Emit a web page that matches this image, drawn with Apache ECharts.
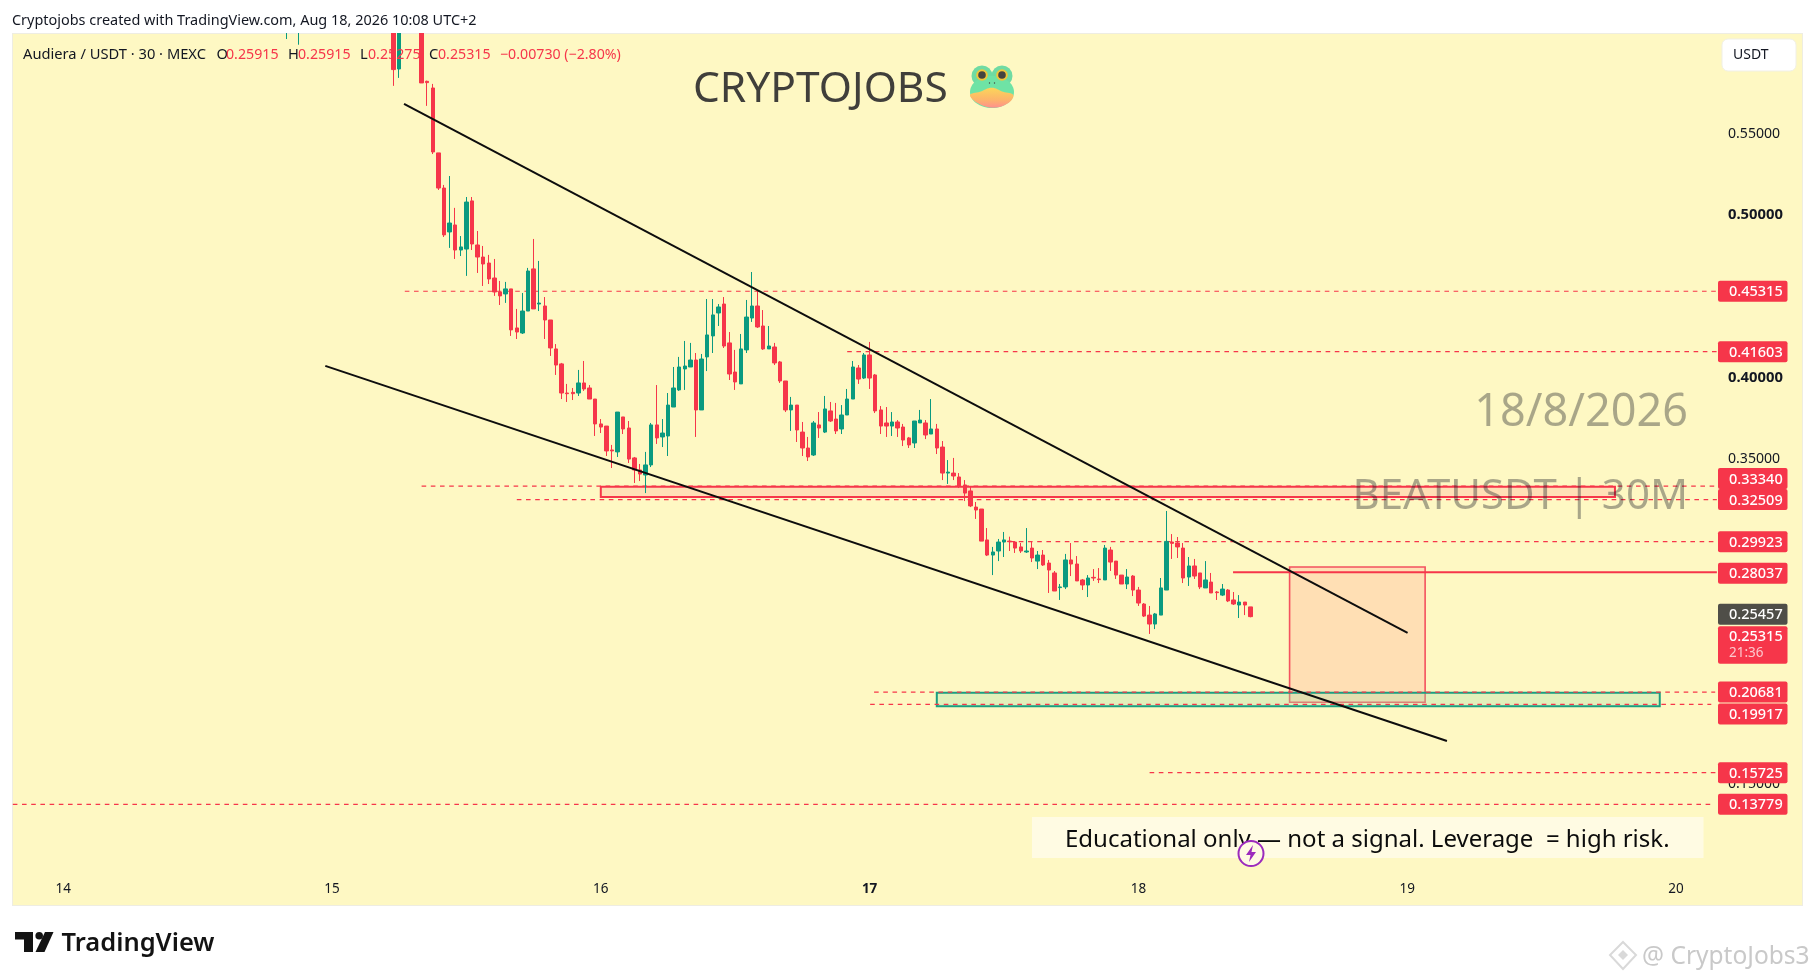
<!DOCTYPE html>
<html>
<head>
<meta charset="utf-8">
<style>
html,body{margin:0;padding:0;background:#fff;}
#panel{position:absolute;left:12px;top:33px;width:1789px;height:871px;background:#fef8c3;border:1px solid #eeede2;}
#c{position:absolute;left:0;top:0;width:1815px;height:980px;}
</style>
</head>
<body>
<div id="panel"></div>
<div id="c"></div>
<script src="https://cdn.jsdelivr.net/npm/echarts@6/dist/echarts.min.js"></script>
<script>
// ---- 30-minute bars; bar index 0 is half a bar right of the panel's left edge ----
const firstBar = 49;
const opens = [
.625,.640,.622,.650,.664,.655,.668,.660,.672,.665,.655,.662,.650,.658,.646,.652,.642,.650,.645,.640,
.5898,.632,.650,.640,.635,.5822,.5781,.5382,.5166,.4896,.4939,.4785,.4791,.5087,.4816,.4742,.4705,.4613,.4527,.4515,
.4546,.4306,.4275,.4410,.4669,.4453,.4441,.4355,.4177,.4085,.3906,.3910,.3906,.3968,.3937,.3869,.3716,.3703,.3556,.3544,
.3759,.3691,.3507,.3433,.3402,.3464,.3710,.3636,.3642,.3820,.3925,.4054,.4066,.4109,.3802,.4128,.4257,.4398,.4453,.4214,
.4035,.3962,.4171,.4367,.4441,.4318,.4177,.4189,.4097,.3980,.3802,.3832,.3666,.3568,.3525,.3710,.3666,.3796,.3746,.3685,
.3771,.3869,.4060,.3998,.4140,.4017,.3802,.3722,.3703,.3728,.3697,.3630,.3599,.3722,.3722,.3654,.3685,.3574,.3414,.3414,
.3390,.3341,.3304,.3205,.3193,.3003,.2910,.2935,.2990,.2996,.2990,.2960,.2929,.2953,.2873,.2910,.2861,.2800,.2710,.2714,
.2880,.2855,.2757,.2726,.2773,.2763,.2757,.2941,.2873,.2787,.2732,.2781,.2695,.2609,.2541,.2486,.2541,.2695,.2990,.2984,
.2953,.2775,.2843,.2800,.2708,.2744,.2683,.2664,.2695,.2634,.2603,.2621,.25915];
const closes = [
.640,.632,.650,.664,.655,.668,.660,.672,.665,.655,.662,.650,.658,.646,.652,.642,.650,.645,.640,.5894,
.632,.650,.640,.635,.5812,.5814,.5388,.5166,.4878,.4951,.4785,.4804,.5080,.4822,.4742,.4699,.4607,.4527,.4503,.4546,
.4294,.4281,.4410,.4656,.4423,.4459,.4355,.4183,.4078,.3906,.3902,.3902,.3968,.3931,.3869,.3716,.3697,.3550,.3550,.3789,
.3685,.3500,.3433,.3408,.3464,.3710,.3630,.3660,.3832,.3937,.4066,.4072,.4109,.3802,.4115,.4263,.4386,.4435,.4195,.4023,
.3974,.4177,.4373,.4441,.4312,.4177,.4195,.4091,.3980,.3802,.3832,.3679,.3568,.3513,.3722,.3691,.3808,.3734,.3673,.3771,
.3869,.4066,.3992,.4140,.3998,.3796,.3703,.3703,.3728,.3691,.3617,.3587,.3734,.3740,.3648,.3685,.3568,.3414,.3420,.3396,
.3335,.3291,.3212,.3187,.2996,.2910,.2929,.2990,.3003,.2992,.2953,.2935,.2935,.2892,.2910,.2849,.2818,.2689,.2714,.2880,
.2855,.2751,.2726,.2769,.2769,.2759,.2953,.2867,.2787,.2732,.2775,.2695,.2615,.2535,.2486,.2548,.2708,.2994,.2982,.2960,
.2769,.2843,.2781,.2714,.2757,.2677,.2679,.2701,.2628,.2609,.2621,.2603,.25315];
const lows = [
.6082,.620,.6047,.640,.648,.650,.652,.655,.658,.650,.648,.645,.642,.640,.638,.634,.636,.632,.630,.5794,
.5843,.625,.630,.625,.5812,.5671,.5375,.5154,.4865,.4798,.4730,.4748,.4626,.4785,.4644,.4564,.4576,.4503,.4447,.4460,
.4257,.4238,.4269,.4410,.4423,.4410,.4238,.4134,.4017,.3869,.3851,.3863,.3888,.3919,.3869,.3642,.3660,.3519,.3445,.3513,
.3654,.3476,.3353,.3365,.3291,.3451,.3593,.3574,.3519,.3820,.3919,.3925,.4066,.3636,.3802,.4041,.4152,.4318,.4183,.3986,
.3925,.3962,.4152,.4343,.4306,.4171,.4177,.4078,.3968,.3789,.3673,.3605,.3519,.3488,.3519,.3630,.3660,.3728,.3654,.3654,
.3771,.3869,.3962,.3992,.3931,.3783,.3654,.3636,.3642,.3636,.3580,.3568,.3568,.3722,.3623,.3654,.3531,.3371,.3347,.3371,
.3322,.3242,.3205,.3132,.2996,.2904,.2787,.2873,.2898,.2935,.2923,.2923,.2923,.2867,.2824,.2843,.2677,.2689,.2634,.2701,
.2781,.2751,.2695,.2652,.2751,.2738,.2757,.2812,.2763,.2732,.2701,.2658,.2597,.2529,.2425,.2455,.2541,.2695,.2886,.2892,
.2738,.2720,.2763,.2701,.2708,.2677,.2634,.2658,.2621,.2603,.2523,.2541,.25275];
const highs = [
.645,.648,.655,.670,.672,.675,.680,.682,.678,.670,.668,.665,.664,.662,.658,.656,.655,.656,.650,.650,
.645,.660,.660,.645,.640,.5826,.5806,.5382,.5185,.5240,.5044,.4871,.5111,.5111,.4902,.4810,.4755,.4730,.4595,.4589,
.4546,.4423,.4521,.4675,.4853,.4718,.4496,.4355,.4207,.4091,.3962,.3937,.4048,.4103,.3955,.3869,.3746,.3703,.3587,.3789,
.3759,.3734,.3513,.3470,.3544,.3722,.3955,.3746,.3906,.4066,.4128,.4226,.4214,.4152,.4146,.4484,.4484,.4453,.4496,.4281,
.4171,.4269,.4478,.4650,.4539,.4416,.4318,.4214,.4103,.3980,.3882,.3832,.3728,.3636,.3734,.3789,.3888,.3851,.3845,.3832,
.3931,.4103,.4078,.4152,.4220,.4023,.3826,.3820,.3789,.3740,.3716,.3636,.3734,.3802,.3740,.3869,.3716,.3611,.3494,.3507,
.3414,.3371,.3328,.3236,.3193,.3076,.2960,.3009,.3052,.3023,.2996,.2984,.3076,.2996,.2935,.2941,.2880,.2812,.2732,.2917,
.2984,.2904,.2763,.2787,.2824,.2830,.2972,.2960,.2873,.2787,.2824,.2787,.2714,.2615,.2597,.2554,.2769,.3181,.3039,.3021,
.2984,.2898,.2886,.2800,.2873,.2800,.2689,.2732,.2701,.2683,.2664,.2621,.25915];

// ---- axes ----
const priceTicks = [.55,.50,.40,.35,.15];
const boldPrices = [.50,.40];
const dayBars = [9,57,105,153,201,249,297];
const dayLabels = ['14','15','16','17','18','19','20'];
const boldDays = ['17'];

// ---- trend lines, in bar index / price ----
const upperTrendBars = [69.86,249.07];
const upperTrendPrices = [.5683,.2431];
const lowerTrendBars = [55.8,256.1];
const lowerTrendPrices = [.4073,.1767];

// ---- horizontal levels ----
const levelPrices = [.45315,.41603,.33340,.32509,.29923,.20681,.19917,.15725,.13779];
const levelStartBars = [70,149,73,90,178,153.8,153.1,203,0];
const levelEndBars = [304.3,304.3,304.3,304.3,304.3,304,303.3,304.3,303.6];
const solidPrice = .28037;
const solidStartBar = 217.9;
const solidEndBar = 304.3;

// ---- zones ----
const zoneStartBars = [105,228,165];
const zoneEndBars = [286.1,252.2,294.1];
const zoneTopPrices = [.3330,.2837,.2064];
const zoneBottomPrices = [.3267,.2005,.1980];

// ---- price scale tags ----
const tagPrices = [.45315,.41603,.33340,.32509,.29923,.28037,.25457,.25315,.20681,.19917,.15725,.13779];
const tagLabels = ['0.45315','0.41603','0.33340','0.32509','0.29923','0.28037','0.25457','0.25315','0.20681','0.19917','0.15725','0.13779'];
const tagShift = [0,0,-7.5,0,0,1,0,19.5,0,9.5,0,0];
const countdownLabel = '21:36';

const RED='#f6364a', GREEN='#0a9a80', FONT='"Noto Sans",sans-serif', INK='#131722';

const chart = echarts.init(document.getElementById('c'),null,{width:1815,height:980});

const candles = opens.map((o,i)=>[firstBar+i,o,closes[i],lows[i],highs[i]]);
const zoneRows = zoneStartBars.map((s,i)=>[s,zoneTopPrices[i]]);
const levelRows = levelPrices.map((p,i)=>[levelStartBars[i],p]);
const tagRows = tagPrices.map(p=>[0,p]);
const zoneStyle = [
  {fill:'#ffdfb6',stroke:RED,lineWidth:2},
  {fill:'#ffdfb4',stroke:'#f4525f',lineWidth:1.6},
  {fill:'rgba(170,225,170,0.33)',stroke:'#1b9e80',lineWidth:2}
];

const txt=(x,y,s,o={})=>({type:'text',x,y,z:o.z||50,silent:true,style:Object.assign({text:s,fill:INK,font:'14px '+FONT,textAlign:'left',textVerticalAlign:'middle'},o)});
const LBL='14.7px '+FONT;

chart.setOption({
  backgroundColor:'transparent',
  animation:false,
  grid:{left:10,top:33,width:1792,height:872,containLabel:false},
  xAxis:{type:'value',min:-0.5,max:319.5,position:'bottom',
    axisLine:{show:false},axisTick:{show:false},splitLine:{show:false},
    axisLabel:{inside:true,margin:16,verticalAlign:'middle',color:INK,fontFamily:FONT,fontSize:13.5,
      customValues:dayBars,showMinLabel:true,showMaxLabel:true,hideOverlap:false,
      formatter:v=>{const d=dayLabels[dayBars.indexOf(v)];return boldDays.includes(d)?'{b|'+d+'}':d;},
      rich:{b:{fontWeight:'bold',fontFamily:FONT,fontSize:13.5,color:INK}}}},
  yAxis:{type:'value',min:0.0759,max:0.6119,position:'right',scale:true,
    axisLine:{show:false},axisTick:{show:false},splitLine:{show:false},
    axisLabel:{inside:true,margin:74,align:'left',verticalAlign:'middle',color:INK,fontFamily:FONT,fontSize:14.1,
      customValues:priceTicks,
      formatter:v=>{const s=v.toFixed(5);return boldPrices.some(b=>Math.abs(b-v)<1e-6)?'{b|'+s+'}':s;},
      rich:{b:{fontWeight:'bold',fontFamily:FONT,fontSize:14.8,color:INK}}}},
  series:[
    {type:'custom',name:'zones',z:1,data:zoneRows,encode:{x:0,y:1},silent:true,clip:false,
      renderItem:(params,api)=>{
        const i=params.dataIndex;
        const a=api.coord([zoneStartBars[i],zoneTopPrices[i]]),b=api.coord([zoneEndBars[i],zoneBottomPrices[i]]);
        return {type:'rect',shape:{x:a[0],y:a[1],width:b[0]-a[0],height:b[1]-a[1]},style:zoneStyle[i]};
      }},
    {type:'custom',name:'levels',z:1,data:levelRows,encode:{x:0,y:1},silent:true,clip:false,
      renderItem:(params,api)=>{
        const i=params.dataIndex;
        const a=api.coord([levelStartBars[i],levelPrices[i]]),b=api.coord([levelEndBars[i],levelPrices[i]]);
        return {type:'line',shape:{x1:a[0],y1:a[1],x2:b[0],y2:b[1]},style:{stroke:RED,lineWidth:1.2,lineDash:[4.6,4.6]}};
      }},
    {type:'candlestick',name:'AUDIERA/USDT',z:3,data:candles,encode:{x:0,y:[1,2,3,4]},barWidth:4,silent:true,clip:true,
      itemStyle:{color:GREEN,color0:RED,borderColor:GREEN,borderColor0:RED,borderWidth:1}},
    {type:'line',name:'solid level',z:4,showSymbol:false,silent:true,
      data:[[solidStartBar,solidPrice],[solidEndBar,solidPrice]],lineStyle:{color:RED,width:2}},
    {type:'line',name:'upper trend',z:5,showSymbol:false,silent:true,
      data:upperTrendBars.map((b,i)=>[b,upperTrendPrices[i]]),lineStyle:{color:'#0d0d0d',width:2}},
    {type:'line',name:'lower trend',z:5,showSymbol:false,silent:true,
      data:lowerTrendBars.map((b,i)=>[b,lowerTrendPrices[i]]),lineStyle:{color:'#0d0d0d',width:2}},
    {type:'custom',name:'price tags',z:8,data:tagRows,encode:{x:0,y:1},silent:true,clip:false,
      renderItem:(params,api)=>{
        const i=params.dataIndex;
        const y=api.coord([0,tagPrices[i]])[1]+tagShift[i];
        const isLast=tagLabels[i]==='0.25315', isMark=tagLabels[i]==='0.25457';
        const h=isLast?37.5:21;
        const top=isLast?y-10:y-10.5;
        const kids=[
          {type:'rect',shape:{x:1718,y:top,width:69.5,height:h,r:2},style:{fill:isMark?'#4f4e48':'#f6364a'}},
          {type:'text',x:1729,y:y+1,style:{text:tagLabels[i],fill:'#fff',font:'500 14.5px '+FONT,textVerticalAlign:'middle',textAlign:'left'}}
        ];
        if(isLast) kids.push({type:'text',x:1729,y:y+17,style:{text:countdownLabel,fill:'rgba(255,255,255,0.72)',font:'13.5px '+FONT,textVerticalAlign:'middle',textAlign:'left'}});
        return {type:'group',children:kids};
      }}
  ],
  graphic:{elements:[
    // header strip hides bars that run above the panel
    {type:'rect',z:6,silent:true,shape:{x:0,y:0,width:1815,height:33},style:{fill:'#fff'}},
    txt(12,20.5,'Cryptojobs created with TradingView.com, Aug 18, 2026 10:08 UTC+2',{font:'14.45px '+FONT}),
    txt(23,54.5,'Audiera / USDT · 30 · MEXC',{font:LBL}),
    txt(216.5,54.5,'O',{font:LBL}),txt(226,54.5,'0.25915',{fill:RED,font:'14.2px '+FONT}),
    txt(288,54.5,'H',{font:LBL}),txt(298,54.5,'0.25915',{fill:RED,font:'14.2px '+FONT}),
    txt(360,54.5,'L',{font:LBL}),txt(368,54.5,'0.25275',{fill:RED,font:'14.2px '+FONT}),
    txt(429,54.5,'C',{font:LBL}),txt(438,54.5,'0.25315',{fill:RED,font:'14.2px '+FONT}),
    txt(500,54.5,'−0.00730 (−2.80%)',{fill:RED,font:'14.2px '+FONT}),

    txt(693,90,'CRYPTOJOBS',{font:'42.5px '+FONT,fill:'#403f3b',z:40}),
    // frog
    {type:'group',z:40,silent:true,children:[
      {type:'circle',z:40,shape:{cx:982,cy:76,r:10.5},style:{fill:'#6fdba3'}},
      {type:'circle',z:40,shape:{cx:1002,cy:76,r:10.5},style:{fill:'#6fdba3'}},
      {type:'ellipse',z:41,shape:{cx:992,cy:92,rx:22,ry:16},style:{fill:'#6fe3a5'}},
      {type:'polygon',z:42,shape:{smooth:0.4,points:[[970,95],[980,91.7],[991.7,87.7],[1003,91.7],[1013.3,95],[1008,103.3],[993,107.8],[978,103.3]]},
        style:{fill:new echarts.graphic.LinearGradient(0,0,0,1,[{offset:0,color:'#fbd65a'},{offset:.6,color:'#fdb46a'},{offset:1,color:'#ff8f8f'}])}},
      {type:'circle',z:43,shape:{cx:982,cy:75,r:5.8},style:{fill:'#f0c63a'}},
      {type:'circle',z:43,shape:{cx:1002,cy:75,r:5.8},style:{fill:'#f0c63a'}},
      {type:'circle',z:44,shape:{cx:982,cy:75,r:3.8},style:{fill:'#45443f'}},
      {type:'circle',z:44,shape:{cx:1002,cy:75,r:3.8},style:{fill:'#45443f'}},
      {type:'circle',z:44,shape:{cx:989.5,cy:83,r:.7},style:{fill:'#45443f'}},
      {type:'circle',z:44,shape:{cx:994.5,cy:83,r:.7},style:{fill:'#45443f'}}
    ]},

    txt(1688,413.5,'18/8/2026',{font:'45px '+FONT,fill:'rgba(19,23,34,0.36)',textAlign:'right',z:9}),
    txt(1688,497.5,'BEATUSDT | 30M',{font:'42px '+FONT,fill:'rgba(19,23,34,0.36)',textAlign:'right',z:9}),

    // currency button
    {type:'rect',z:20,silent:true,shape:{x:1722,y:39,width:74,height:32,r:6},style:{fill:'#fff',stroke:'#f0efe6',lineWidth:1}},
    txt(1733,55,'USDT',{z:21}),

    // disclaimer
    {type:'rect',z:10,silent:true,shape:{x:1032,y:817,width:671.5,height:41},style:{fill:'#fffbe3'}},
    txt(1065,840,'Educational only — not a signal. Leverage  = high risk.',{font:'24px '+FONT,fill:'#0c0c0c',z:11}),
    // lightning marker
    {type:'circle',z:12,silent:true,shape:{cx:1251,cy:853.5,r:12.5},style:{fill:'#fffbe3',stroke:'#9c2bbd',lineWidth:2}},
    {type:'polygon',z:13,silent:true,shape:{points:[[1253,845],[1246,855],[1250.5,855],[1249,862],[1256,852],[1251.5,852]]},style:{fill:'#9c2bbd'}},

    // TradingView mark
    {type:'polygon',z:20,silent:true,shape:{points:[[15,932],[33,932],[33,952],[24,952],[24,939.5],[15,939.5]]},style:{fill:'#131313'}},
    {type:'polygon',z:20,silent:true,shape:{points:[[45,932],[53.5,932],[44.5,952],[35.5,952]]},style:{fill:'#131313'}},
    {type:'circle',z:20,silent:true,shape:{cx:39.2,cy:935.8,r:3.8},style:{fill:'#131313'}},
    txt(61.5,944,'TradingView',{font:'600 25.5px '+FONT,fill:'#131313',z:20}),

    // watermark
    {type:'polygon',z:20,silent:true,shape:{points:[[1623,942],[1636,955],[1623,969],[1610,955]]},style:{fill:'none',stroke:'#d9d9d9',lineWidth:2}},
    {type:'polygon',z:20,silent:true,shape:{points:[[1623,950],[1628,955],[1623,960],[1618,955]]},style:{fill:'#d9d9d9'}},
    txt(1642,957,'@ CryptoJobs3',{font:'24.5px '+FONT,fill:'#c9c9c9',z:20})
  ]}
});
</script>
</body>
</html>
